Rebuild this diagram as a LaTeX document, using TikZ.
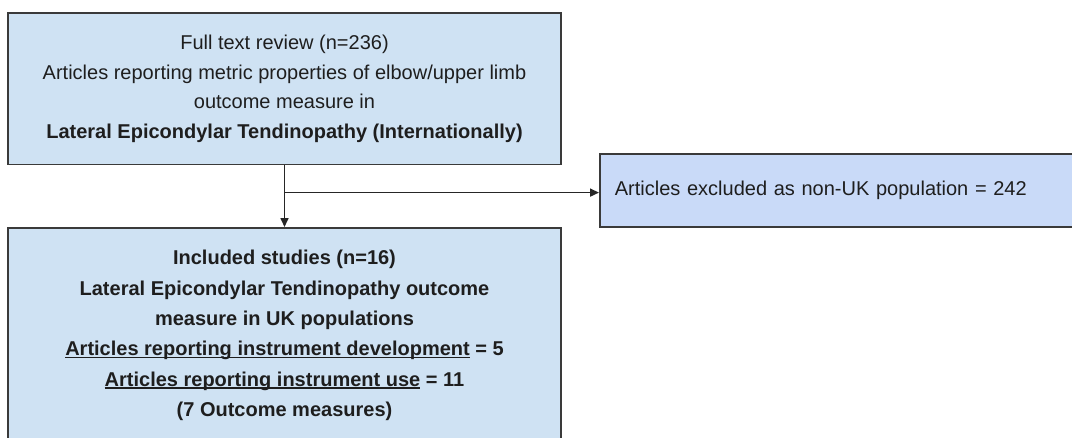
\documentclass[tikz,border=0pt]{standalone}
\usepackage{fontspec}
\setmainfont{Liberation Sans}
\usetikzlibrary{arrows.meta,calc}
\definecolor{boxblue}{HTML}{CFE2F3}
\definecolor{exclblue}{HTML}{C9DAF8}
\definecolor{edge}{HTML}{3A3A3A}
\definecolor{ink}{HTML}{1E1E1E}
% underline that runs close under the baseline
\newcommand{\undl}[1]{\setbox0\hbox{#1}\rlap{\rule[-2.6pt]{\wd0}{1.3pt}}\box0\relax}
\tikzset{
  flowbox/.style={draw=edge, line width=1.8pt, fill=boxblue, text=ink,
    font=\fontsize{20}{29.5}\selectfont, align=center, inner sep=0pt},
  exclbox/.style={draw=edge, line width=1.8pt, fill=exclblue, text=ink,
    font=\fontsize{20}{24}\selectfont, align=left, inner xsep=15pt, inner ysep=0pt},
  flowarrow/.style={draw=black!85, line width=1.6pt,
    -{Triangle[length=9pt,width=8pt]}}
}
\begin{document}
\begin{tikzpicture}[x=1pt,y=1pt]
\clip (0,0) rectangle (1072,-437);
\fill[white] (0,0) rectangle (1072,-437);

\node[flowbox, minimum width=553, minimum height=151.8] (top) at (284.5,-88.6)
  {Full text review (n=236)\\
   Articles reporting metric properties of elbow/upper limb\\
   outcome measure in\\
   \textbf{Lateral Epicondylar Tendinopathy (Internationally)}};

\node[flowbox, font=\fontsize{20}{30.3}\selectfont, minimum width=553,
      minimum height=215, anchor=north] (incl) at (284.5,-227)
  {\textbf{Included studies (n=16)}\\
   \textbf{Lateral Epicondylar Tendinopathy outcome}\\
   \textbf{measure in UK populations}\\
   \textbf{\undl{Articles reporting instrument development} = 5}\\
   \textbf{\undl{Articles reporting instrument use} = 11}\\
   \textbf{(7 Outcome measures)}};

\node[exclbox, text width=470, minimum height=73, anchor=west] (excl) at (599,-190.7)
  {Articles excluded as non-UK population = 242};

\coordinate (branch) at ($(top.south)+(0,-27.2)$);
\draw[flowarrow] (top.south) -- (incl.north);
\draw[flowarrow] (branch) -- (excl.west |- branch);
\end{tikzpicture}
\end{document}
